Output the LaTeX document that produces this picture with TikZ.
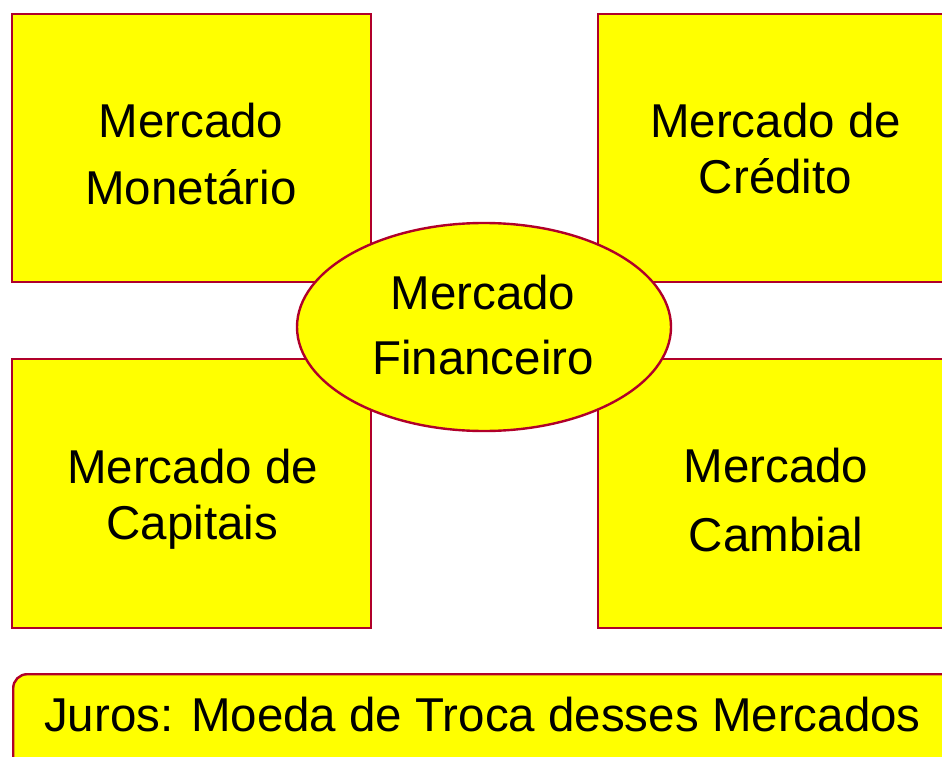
\documentclass[tikz,border=0pt]{standalone}
\usepackage{fontspec}
\setmainfont{Liberation Sans}
\usetikzlibrary{shapes.geometric}
\definecolor{edgered}{RGB}{176,0,42}
\definecolor{fillyel}{RGB}{255,255,0}
\tikzset{
  mbox/.style={draw=edgered, fill=fillyel, line width=2.4pt, rectangle, inner sep=0pt, anchor=north west},
  mtext/.style={align=center, inner sep=0pt, text=black},
}
\newcommand{\fs}[1]{\fontsize{47.5}{#1}\selectfont}
\begin{document}
\begin{tikzpicture}[x=1pt,y=-1pt]
\useasboundingbox (0,0) rectangle (942,757);
\node[mbox, minimum width=359pt, minimum height=268pt] (tl) at (11,13) {};
\node[mbox, minimum width=358pt, minimum height=268pt] (tr) at (597,13) {};
\node[mbox, minimum width=359pt, minimum height=269pt] (bl) at (11,358) {};
\node[mbox, minimum width=358pt, minimum height=269pt] (br) at (597,358) {};
\node[draw=edgered, fill=fillyel, line width=2.4pt, ellipse, inner sep=0pt,
      minimum width=374pt, minimum height=208pt] (fin) at (484,327) {};
\node[mbox, rounded corners=14pt, minimum width=943pt, minimum height=97pt] (juros) at (12,673) {};
\node[mtext, font=\fs{67}] (tlt) at (191,154) {Mercado\\Monetário};
\node[mtext, font=\fs{56.5}] (trt) at (775.5,148.7) {Mercado de\\Crédito};
\node[mtext, font=\fs{56}] (blt) at (192.5,499) {Mercado de\\Capitais};
\node[mtext, font=\fs{69}] (brt) at (776,500.4) {Mercado\\Cambial};
\node[mtext, font=\fs{65}] (fint) at (483,325.4) {Mercado\\Financeiro};
\node[mtext, font=\fs{57}, anchor=base] (jurost) at (482.5,731.7) {Juros: Moeda de Troca desses Mercados};
\end{tikzpicture}
\end{document}
